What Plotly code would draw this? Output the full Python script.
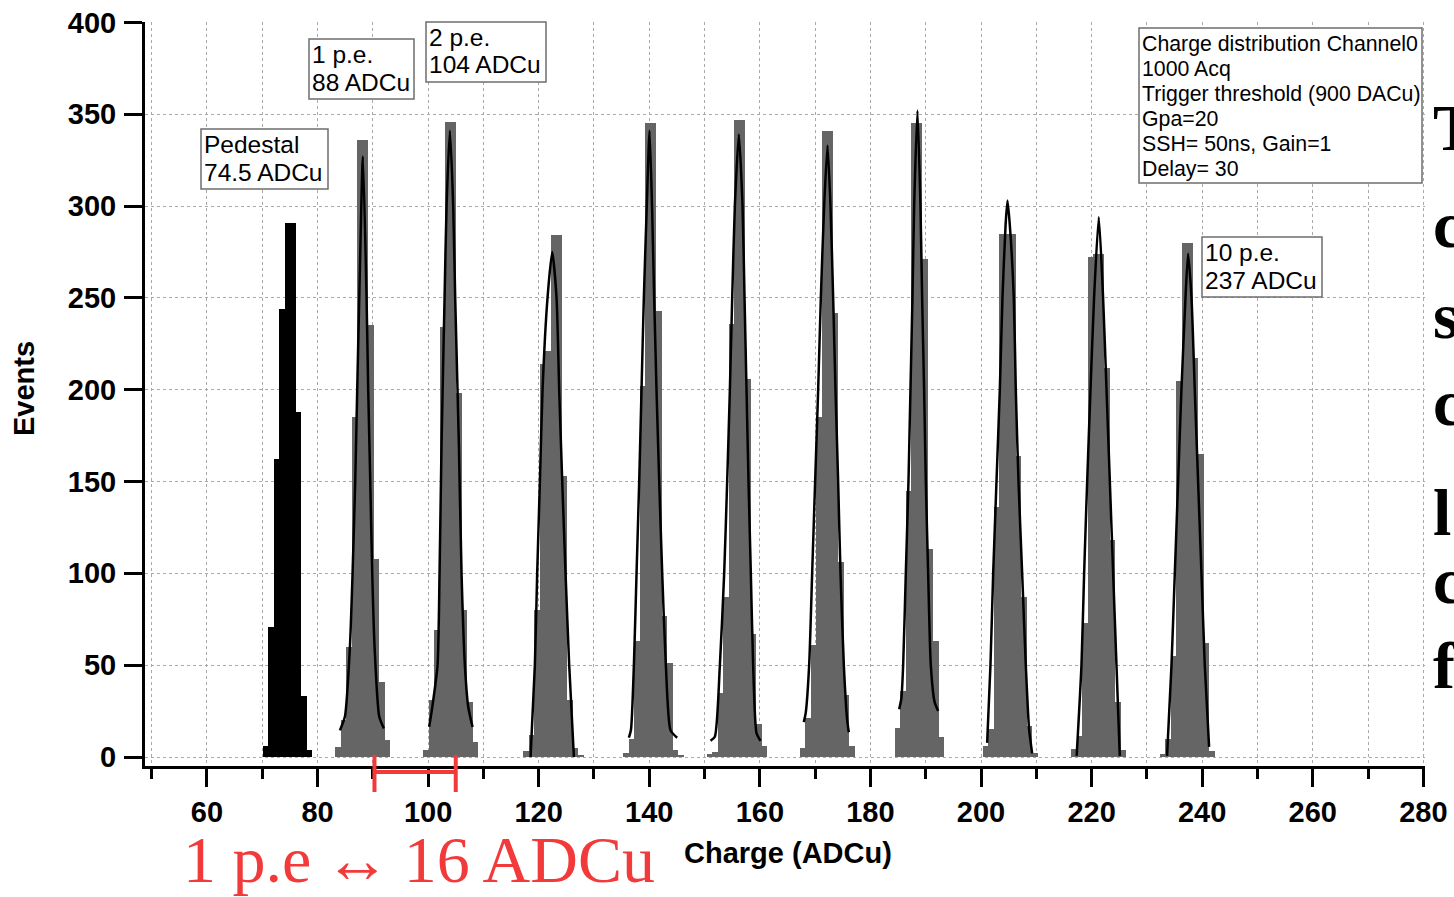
import plotly.graph_objects as go

# ---------------- data ----------------
bin_width = 0.995

pedestal_start = 70.07
pedestal_counts = [6, 71, 162, 244, 291, 291, 188, 33, 4]

pe_starts = [83.2, 99.12, 117.2, 135.29, 150.36, 167.23, 184.41, 200.27, 216.36, 232.33]
pe1_counts = [5.5, 20, 60, 185, 336, 336, 235, 108, 41, 9]
pe2_counts = [4, 31, 69, 234, 346, 346, 198, 80, 30, 8]
pe3_counts = [3, 12, 80, 214, 221, 284, 284, 153, 31, 5, 1]
pe4_counts = [2, 10, 63, 202, 345, 345, 243, 77, 51, 4, 1]
pe5_counts = [1.5, 2.5, 35, 87, 236, 347, 347, 206, 67, 18, 6]
pe6_counts = [5, 21, 61, 185, 341, 341, 242, 106, 34, 6]
pe7_counts = [16, 36, 145, 345, 345, 271, 113, 63, 11]
pe8_counts = [6, 15, 136, 285, 285, 285, 164, 87, 17, 2]
pe9_counts = [4.5, 11.5, 73, 272, 274, 274, 212, 118, 30, 4]
pe10_counts = [1.6, 10, 55, 205, 280, 280, 217, 165, 62, 3]

# fitted curves
fit1_x = [84.05, 84.96, 85.86, 86.34, 86.82, 87.18, 87.55, 88.21, 88.87, 89.17, 89.54, 89.9, 90.32, 91.16, 92.0]
fit1_y = [14.5, 22, 60, 100, 150, 200, 250, 327, 250, 200, 150, 100, 60, 22, 15.5]
fit2_x = [100.2, 100.75, 101.71, 102.07, 102.43, 102.98, 103.34, 103.94, 104.54, 104.9, 105.57, 106.05, 106.65, 107.25, 108.04]
fit2_y = [16.5, 27, 50, 100, 170, 250, 300, 341, 300, 250, 170, 100, 50, 27.5, 16.3]
fit3_x = [118.53, 119.31, 119.73, 120.22, 120.7, 121.6, 122.45, 123.23, 123.71, 124.26, 124.86, 125.52, 126.37]
fit3_y = [0, 50, 100, 150, 200, 250, 275, 250, 200, 150, 100, 50, 0]
fit4_x = [136.31, 136.7, 137.22, 137.7, 138.18, 138.6, 139.02, 139.55, 140.05, 140.5, 140.89, 141.31, 141.8, 142.34, 143.0, 143.85, 145.05]
fit4_y = [10.5, 15, 50, 100, 150, 200, 250, 300, 341, 300, 250, 200, 150, 100, 50, 14.5, 10.5]
fit5_x = [151.08, 151.86, 152.77, 153.55, 154.09, 154.58, 155.0, 155.48, 156.2, 156.87, 157.23, 157.59, 157.95, 158.37, 158.79, 159.4, 160.12]
fit5_y = [8.8, 11, 50, 100, 150, 200, 250, 300, 339, 300, 250, 200, 150, 100, 50, 13, 8.8]
fit6_x = [167.95, 168.3, 168.92, 169.46, 170.0, 170.55, 171.03, 171.63, 172.24, 172.78, 173.26, 173.68, 174.16, 174.59, 175.19, 175.8, 176.09]
fit6_y = [19, 24, 50, 100, 150, 200, 250, 300, 333, 300, 250, 200, 150, 100, 50, 20, 13.5]
fit7_x = [185.2, 185.6, 185.92, 186.4, 186.88, 187.24, 187.6, 187.91, 188.51, 189.05, 189.35, 189.71, 190.02, 190.44, 190.92, 191.6, 192.25]
fit7_y = [26, 32, 50, 100, 150, 200, 250, 300, 352, 300, 250, 200, 150, 100, 50, 30, 25]
fit8_x = [201.11, 201.71, 202.2, 202.8, 203.4, 203.88, 204.45, 204.79, 205.2, 205.93, 206.29, 206.78, 207.44, 208.1, 208.7, 209.25]
fit8_y = [7.7, 50, 100, 150, 200, 250, 290, 303, 290, 250, 200, 150, 100, 50, 15, 2]
fit9_x = [217.3, 218.17, 218.65, 219.2, 219.8, 220.45, 221.3, 222.08, 222.7, 223.3, 223.9, 224.5, 225.1]
fit9_y = [0.6, 50, 100, 150, 200, 250, 294, 250, 200, 150, 100, 50, 0.6]
fit10_x = [233.65, 234.45, 235.05, 235.65, 236.25, 236.98, 237.45, 238.07, 238.66, 239.26, 239.87, 240.47, 241.25]
fit10_y = [0.6, 50, 100, 150, 200, 250, 274, 250, 200, 150, 100, 50, 5.5]

box_pedestal = ["Pedestal", "74.5 ADCu"]
box_pe1 = ["1 p.e.", "88 ADCu"]
box_pe2 = ["2 p.e.", "104 ADCu"]
box_pe10 = ["10 p.e.", "237 ADCu"]
info_lines = ["Charge distribution Channel0", "1000 Acq", "Trigger threshold (900 DACu)",
              "Gpa=20", "SSH= 50ns, Gain=1", "Delay= 30"]
bracket_left, bracket_right = 90.3, 105.0
x_range = [48.8, 280.3]
y_range = [-4.9, 400.2]
side_letters = ["T", "c", "s", "c", "l", "c", "f"]

# ---------------- figure ----------------
W, H = 1454, 897
ML, MR, MT, MB = 145, 29, 22, 131
PW, PH = W - ML - MR, H - MT - MB


def pxx(p):
    return (p - ML) / PW


def pxy(p):
    return (H - MB - p) / PH


def datax(v):
    return (v - x_range[0]) / (x_range[1] - x_range[0])


fig = go.Figure()

def add_hist(start, counts, color):
    centers = [start + (i + 0.5) * bin_width for i in range(len(counts))]
    fig.add_trace(go.Bar(x=centers, y=counts, width=bin_width,
                         marker=dict(color=color, line=dict(width=0)),
                         hoverinfo="x+y"))

add_hist(pedestal_start, pedestal_counts, "black")
pe_counts = [pe1_counts, pe2_counts, pe3_counts, pe4_counts, pe5_counts,
             pe6_counts, pe7_counts, pe8_counts, pe9_counts, pe10_counts]
for s, c in zip(pe_starts, pe_counts):
    add_hist(s, c, "#656565")

fits = [(fit1_x, fit1_y), (fit2_x, fit2_y), (fit3_x, fit3_y), (fit4_x, fit4_y),
        (fit5_x, fit5_y), (fit6_x, fit6_y), (fit7_x, fit7_y), (fit8_x, fit8_y),
        (fit9_x, fit9_y), (fit10_x, fit10_y)]
for fx, fy in fits:
    fig.add_trace(go.Scatter(x=fx, y=fy, mode="lines",
                             line=dict(color="black", width=2.5, shape="spline", smoothing=0.6)))

grid = "#a9a9a9"
tickfont = dict(family="Liberation Sans, Arial, sans-serif", size=29, color="black", weight="bold")
fig.update_layout(
    template="none",
    width=W, height=H, margin=dict(l=ML, r=MR, t=MT, b=MB, pad=0, autoexpand=False),
    plot_bgcolor="white", paper_bgcolor="white", showlegend=False,
    barmode="overlay", bargap=0,
    xaxis=dict(range=x_range, dtick=20, tick0=0, showline=True, linecolor="black", linewidth=3,
               ticks="outside", ticklen=18, tickwidth=2.5, tickcolor="black", automargin=False,
               showgrid=True, gridcolor=grid, griddash="dot", gridwidth=1, zeroline=False,
               tickfont=tickfont, ticklabelstandoff=0,
               minor=dict(dtick=10, tick0=0, ticks="outside", ticklen=10, tickwidth=2.5,
                          tickcolor="black", showgrid=True, gridcolor=grid, griddash="dot", gridwidth=1)),
    yaxis=dict(range=y_range, dtick=50, tick0=0, showline=True, linecolor="black", linewidth=3,
               ticks="outside", ticklen=18, tickwidth=2.5, tickcolor="black", automargin=False,
               showgrid=True, gridcolor=grid, griddash="dot", gridwidth=1, zeroline=False,
               tickfont=tickfont, ticklabelstandoff=2),
)

shapes = []
annotations = []
sans = "Liberation Sans, Arial, sans-serif"


def text_box(lines, left, top, right, bottom, size, spacing, first_center, text_left):
    shapes.append(dict(type="rect", xref="paper", yref="paper",
                       x0=pxx(left), x1=pxx(right), y0=pxy(bottom), y1=pxy(top),
                       line=dict(color="#6e6e6e", width=1.5), fillcolor="white", layer="above"))
    for i, t in enumerate(lines):
        annotations.append(dict(text=t, xref="paper", yref="paper", x=pxx(text_left),
                                y=pxy(first_center + i * spacing), xanchor="left", yanchor="middle",
                                showarrow=False, font=dict(family=sans, size=size, color="black")))


text_box(box_pedestal, 201, 129, 328, 189, 24.5, 27, 145, 202)
text_box(box_pe1, 309, 39, 414, 99, 24.5, 27, 55, 310)
text_box(box_pe2, 426, 22, 546, 82, 24.5, 27, 38, 427)
text_box(box_pe10, 1202, 237, 1322, 297, 24.5, 27, 253, 1203)
text_box(info_lines, 1139, 28, 1422, 183, 21.3, 25, 44, 1140)

# axis titles
annotations.append(dict(text="Events", xref="paper", yref="paper", x=pxx(24), y=pxy(389),
                        textangle=-90, showarrow=False, xanchor="center", yanchor="middle",
                        font=dict(family=sans, size=29, color="black", weight="bold")))
annotations.append(dict(text="Charge (ADCu)", xref="paper", yref="paper", x=pxx(788), y=pxy(853),
                        showarrow=False, xanchor="center", yanchor="middle",
                        font=dict(family=sans, size=29, color="black", weight="bold")))

# red bracket and label
red = "#f23a3a"
bl, br = datax(bracket_left), datax(bracket_right)
shapes.append(dict(type="line", xref="paper", yref="paper", x0=bl, x1=br, y0=pxy(772), y1=pxy(772),
                   line=dict(color=red, width=4)))
for bx in (bl, br):
    shapes.append(dict(type="line", xref="paper", yref="paper", x0=bx, x1=bx, y0=pxy(755), y1=pxy(792),
                       line=dict(color=red, width=4)))
annotations.append(dict(text="1 p.e\u2009\u2194\u200916 ADCu", xref="paper", yref="paper", x=pxx(419), y=pxy(859),
                        showarrow=False, xanchor="center", yanchor="middle",
                        font=dict(family="Liberation Serif, DejaVu Serif, serif", size=66, color=red)))

# clipped document text at the right edge
letter_centers = [128, 225, 315, 402, 512, 580, 665]
for t, cy in zip(side_letters, letter_centers):
    annotations.append(dict(text=t, xref="paper", yref="paper", x=pxx(1431), y=pxy(cy),
                            showarrow=False, xanchor="left", yanchor="middle",
                            font=dict(family="Liberation Serif, DejaVu Serif, serif", size=66,
                                      color="black", weight="bold")))

fig.update_layout(shapes=shapes, annotations=annotations)
fig.write_html("out.html", config={"displayModeBar": False},
               post_script="document.body.style.margin='0';")
